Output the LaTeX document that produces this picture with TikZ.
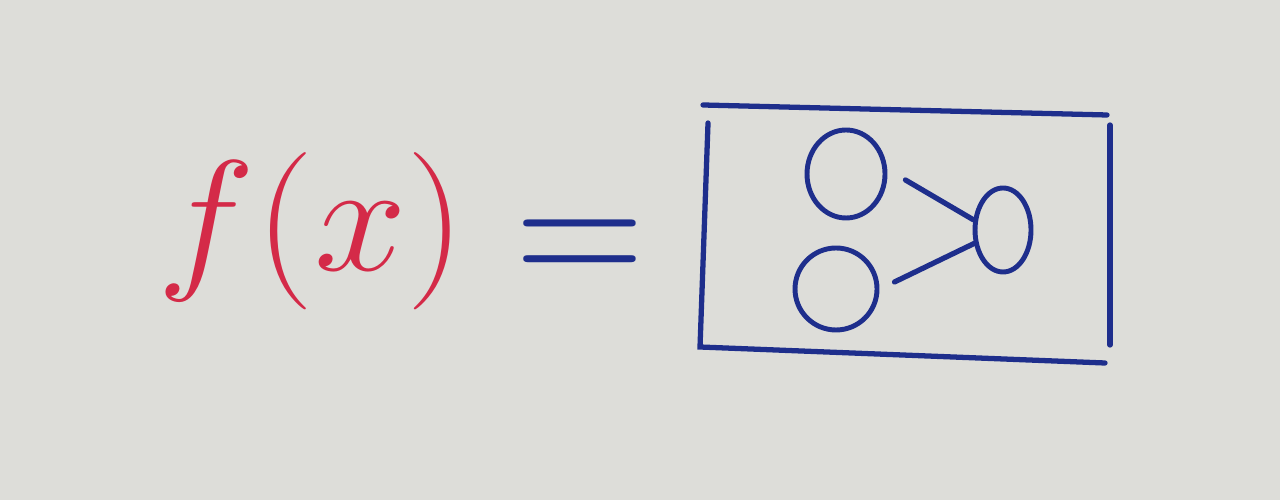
\documentclass[tikz,border=0pt]{standalone}
\usepackage{tikz}
\usetikzlibrary{positioning,shapes.geometric,backgrounds}

\definecolor{paper}{RGB}{221,221,217}
\definecolor{penred}{RGB}{212,42,72}
\definecolor{penblue}{RGB}{30,46,140}

\begin{document}
\begin{tikzpicture}[
    pen/.style={draw=penblue, line width=1.5pt, line cap=round},
    blob/.style={ellipse, draw=penblue, line width=1.4pt, inner sep=0pt},
    formula/.style={inner sep=0pt, font=\Huge},
  ]

  % ===== paper =====
  \useasboundingbox (0,0) rectangle (12.8,5);
  \fill[paper] (0,0) rectangle (12.8,5);

  % ===== left-hand side =====
  \node[formula, text=penred, xscale=1.9, yscale=1.8, anchor=base west] (fx) at (1.56,2.29) {$f(x)$};
  \node[formula, text=penblue, xscale=2.05, yscale=2.3, anchor=base] (eq) at (5.80,2.08) {$=$};

  % ===== frame (hand-drawn strokes) =====
  \draw[pen] (7.03,3.95) -- (11.07,3.85);
  \draw[pen] (7.08,3.77) -- (7.00,1.53) -- (11.05,1.37);
  \draw[pen] (11.10,3.75) -- (11.10,1.55);

  % ===== graph inside the frame =====
  \node[blob, minimum width=7.8mm, minimum height=8.8mm] (tl) at (8.46,3.26) {};
  \node[blob, minimum width=8.2mm, minimum height=8.2mm] (bl) at (8.36,2.11) {};
  \node[blob, minimum width=5.6mm, minimum height=8.4mm] (rt) at (10.03,2.70) {};

  \coordinate (s1) at ([shift={(1.8mm,-0.6mm)}]tl.east);
  \coordinate (s2) at ([shift={(1.5mm,0.7mm)}]bl.east);

  \draw[pen] (s1) -- (rt.161);
  \draw[pen] (s2) -- (rt.205);

\end{tikzpicture}
\end{document}
